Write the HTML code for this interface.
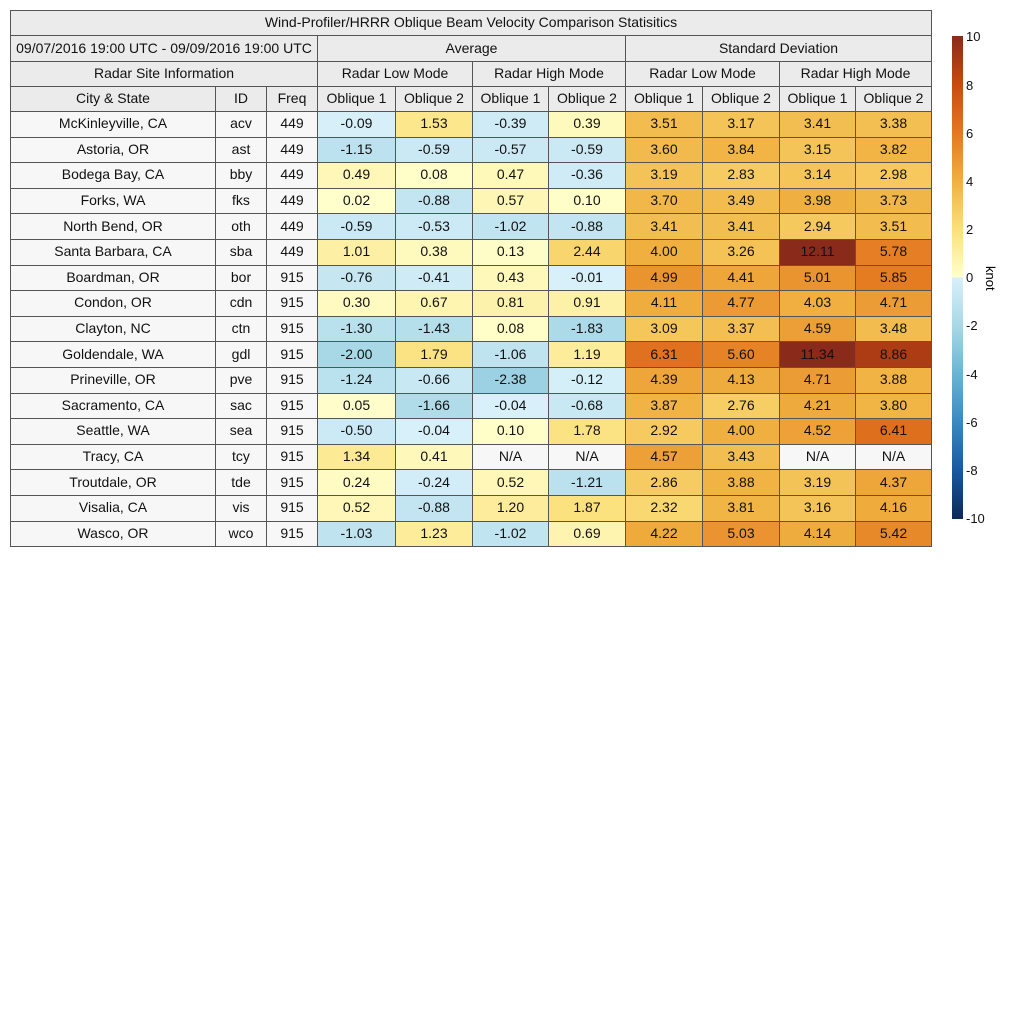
<!DOCTYPE html>
<html><head><meta charset="utf-8"><style>
body{margin:0;background:#fff;width:1024px;height:1024px;position:relative;font-family:"Liberation Sans",sans-serif;}
table{position:absolute;left:10px;top:10px;border-collapse:collapse;table-layout:fixed;width:922px;}
td{border:1px solid #555;text-align:center;font-size:14px;line-height:15px;color:#111;padding:0 0 1px 0;white-space:nowrap;overflow:hidden;}
.h td{background:#ebebeb;}
tr.d td{background:#f7f7f7;height:23.6px;}
#cb{position:absolute;left:952px;top:36px;width:11px;height:483px;background:linear-gradient(to bottom,#8a2a1a 0%,#c84a10 10%,#e47820 20%,#f0b040 30%,#fbe07a 40%,#ffffcc 49.9%,#d8f0fa 50.1%,#a8d8e6 60%,#6ab4d4 70%,#3a88c0 80%,#1a58a0 90%,#0a2a58 100%);}
.tk{position:absolute;left:966px;font-size:13px;color:#111;}
</style></head><body>
<table>
<colgroup><col style="width:205px"><col style="width:51px"><col style="width:51px"><col style="width:78px"><col style="width:77px"><col style="width:76px"><col style="width:77px"><col style="width:77px"><col style="width:77px"><col style="width:76px"><col style="width:76px"></colgroup>
<tr class="h"><td colspan="11" style="height:23px">Wind-Profiler/HRRR Oblique Beam Velocity Comparison Statisitics</td></tr>
<tr class="h"><td colspan="3" style="height:24px">09/07/2016 19:00 UTC - 09/09/2016 19:00 UTC</td><td colspan="4">Average</td><td colspan="4">Standard Deviation</td></tr>
<tr class="h"><td colspan="3" style="height:23px">Radar Site Information</td><td colspan="2">Radar Low Mode</td><td colspan="2">Radar High Mode</td><td colspan="2">Radar Low Mode</td><td colspan="2">Radar High Mode</td></tr>
<tr class="h"><td style="height:23px">City &amp; State</td><td>ID</td><td>Freq</td><td>Oblique 1</td><td>Oblique 2</td><td>Oblique 1</td><td>Oblique 2</td><td>Oblique 1</td><td>Oblique 2</td><td>Oblique 1</td><td>Oblique 2</td></tr>
<tr class="d"><td>McKinleyville, CA</td><td>acv</td><td>449</td><td>-0.09</td><td>1.53</td><td>-0.39</td><td>0.39</td><td>3.51</td><td>3.17</td><td>3.41</td><td>3.38</td></tr>
<tr class="d"><td>Astoria, OR</td><td>ast</td><td>449</td><td>-1.15</td><td>-0.59</td><td>-0.57</td><td>-0.59</td><td>3.60</td><td>3.84</td><td>3.15</td><td>3.82</td></tr>
<tr class="d"><td>Bodega Bay, CA</td><td>bby</td><td>449</td><td>0.49</td><td>0.08</td><td>0.47</td><td>-0.36</td><td>3.19</td><td>2.83</td><td>3.14</td><td>2.98</td></tr>
<tr class="d"><td>Forks, WA</td><td>fks</td><td>449</td><td>0.02</td><td>-0.88</td><td>0.57</td><td>0.10</td><td>3.70</td><td>3.49</td><td>3.98</td><td>3.73</td></tr>
<tr class="d"><td>North Bend, OR</td><td>oth</td><td>449</td><td>-0.59</td><td>-0.53</td><td>-1.02</td><td>-0.88</td><td>3.41</td><td>3.41</td><td>2.94</td><td>3.51</td></tr>
<tr class="d"><td>Santa Barbara, CA</td><td>sba</td><td>449</td><td>1.01</td><td>0.38</td><td>0.13</td><td>2.44</td><td>4.00</td><td>3.26</td><td>12.11</td><td>5.78</td></tr>
<tr class="d"><td>Boardman, OR</td><td>bor</td><td>915</td><td>-0.76</td><td>-0.41</td><td>0.43</td><td>-0.01</td><td>4.99</td><td>4.41</td><td>5.01</td><td>5.85</td></tr>
<tr class="d"><td>Condon, OR</td><td>cdn</td><td>915</td><td>0.30</td><td>0.67</td><td>0.81</td><td>0.91</td><td>4.11</td><td>4.77</td><td>4.03</td><td>4.71</td></tr>
<tr class="d"><td>Clayton, NC</td><td>ctn</td><td>915</td><td>-1.30</td><td>-1.43</td><td>0.08</td><td>-1.83</td><td>3.09</td><td>3.37</td><td>4.59</td><td>3.48</td></tr>
<tr class="d"><td>Goldendale, WA</td><td>gdl</td><td>915</td><td>-2.00</td><td>1.79</td><td>-1.06</td><td>1.19</td><td>6.31</td><td>5.60</td><td>11.34</td><td>8.86</td></tr>
<tr class="d"><td>Prineville, OR</td><td>pve</td><td>915</td><td>-1.24</td><td>-0.66</td><td>-2.38</td><td>-0.12</td><td>4.39</td><td>4.13</td><td>4.71</td><td>3.88</td></tr>
<tr class="d"><td>Sacramento, CA</td><td>sac</td><td>915</td><td>0.05</td><td>-1.66</td><td>-0.04</td><td>-0.68</td><td>3.87</td><td>2.76</td><td>4.21</td><td>3.80</td></tr>
<tr class="d"><td>Seattle, WA</td><td>sea</td><td>915</td><td>-0.50</td><td>-0.04</td><td>0.10</td><td>1.78</td><td>2.92</td><td>4.00</td><td>4.52</td><td>6.41</td></tr>
<tr class="d"><td>Tracy, CA</td><td>tcy</td><td>915</td><td>1.34</td><td>0.41</td><td>N/A</td><td>N/A</td><td>4.57</td><td>3.43</td><td>N/A</td><td>N/A</td></tr>
<tr class="d"><td>Troutdale, OR</td><td>tde</td><td>915</td><td>0.24</td><td>-0.24</td><td>0.52</td><td>-1.21</td><td>2.86</td><td>3.88</td><td>3.19</td><td>4.37</td></tr>
<tr class="d"><td>Visalia, CA</td><td>vis</td><td>915</td><td>0.52</td><td>-0.88</td><td>1.20</td><td>1.87</td><td>2.32</td><td>3.81</td><td>3.16</td><td>4.16</td></tr>
<tr class="d"><td>Wasco, OR</td><td>wco</td><td>915</td><td>-1.03</td><td>1.23</td><td>-1.02</td><td>0.69</td><td>4.22</td><td>5.03</td><td>4.14</td><td>5.42</td></tr>
</table>
<div id="cb"></div>
<div class="tk" style="top:29px">10</div>
<div class="tk" style="top:78px">8</div>
<div class="tk" style="top:126px">6</div>
<div class="tk" style="top:174px">4</div>
<div class="tk" style="top:222px">2</div>
<div class="tk" style="top:270px">0</div>
<div class="tk" style="top:318px">-2</div>
<div class="tk" style="top:367px">-4</div>
<div class="tk" style="top:415px">-6</div>
<div class="tk" style="top:463px">-8</div>
<div class="tk" style="top:511px">-10</div>
<div style="position:absolute;font-size:13px;transform:rotate(90deg);transform-origin:0 0;left:998px;top:266px;">knot</div>
<script>
var pos=[[0,[255,255,204]],[2,[251,224,122]],[4,[240,176,64]],[6,[228,120,32]],[8,[200,74,16]],[10,[138,42,26]]];
var neg=[[0,[216,240,250]],[2,[168,216,230]],[4,[106,180,212]],[6,[58,136,192]],[8,[26,88,160]],[10,[10,42,88]]];
function col(v){var s=v>=0?pos:neg;var a=Math.min(Math.abs(v),10);
for(var i=0;i<s.length-1;i++){if(a<=s[i+1][0]){var t=(a-s[i][0])/(s[i+1][0]-s[i][0]);var c=s[i][1].map(function(x,k){return Math.round(x+(s[i+1][1][k]-x)*t)});return 'rgb('+c.join(',')+')';}}
return 'rgb('+s[s.length-1][1].join(',')+')';}
document.querySelectorAll('tr.d').forEach(function(r){var c=r.children;for(var i=3;i<c.length;i++){var v=parseFloat(c[i].textContent);if(!isNaN(v))c[i].style.background=col(v);}});
</script>
</body></html>
